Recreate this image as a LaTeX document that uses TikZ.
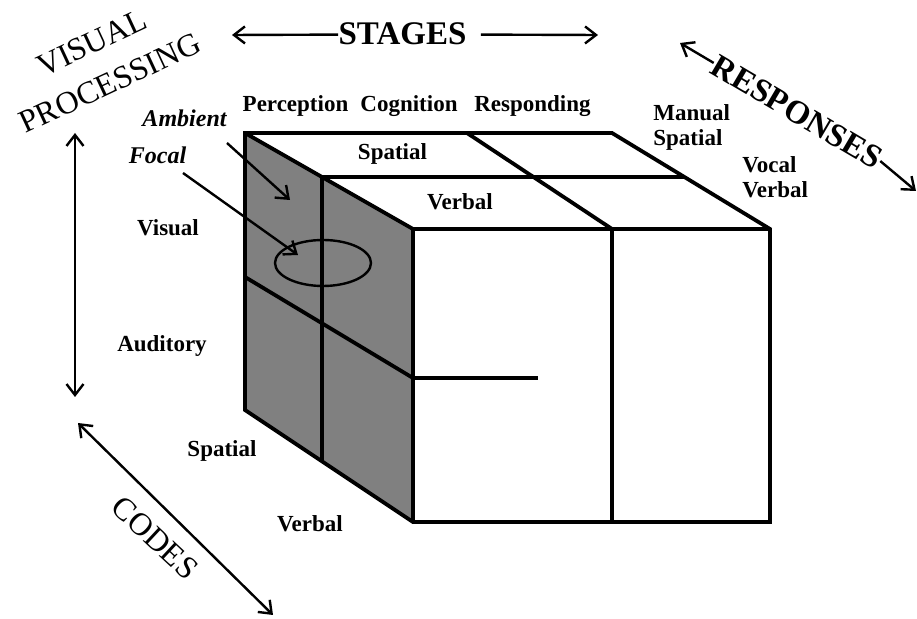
\documentclass[tikz,border=0pt]{standalone}
\usepackage{fontspec}
\setmainfont{Liberation Serif}
\usetikzlibrary{arrows.meta}

\begin{document}
\begin{tikzpicture}[
  x=0.5pt, y=-0.5pt,
  edge/.style={line width=1.9pt, line join=miter},
  thin edge/.style={line width=1.6pt},
  tip/.style={Straight Barb[length=5.5pt,width=8.5pt,line width=1.2pt]},
  arr/.style={line width=1.2pt, -{Straight Barb[length=5.5pt,width=8.5pt,line width=1.2pt]}},
  dblarr/.style={line width=1.2pt, {Straight Barb[length=5.5pt,width=8.5pt,line width=1.2pt]}-{Straight Barb[length=5.5pt,width=8.5pt,line width=1.2pt]}},
  lbl/.style={font=\fontsize{11.5}{14}\selectfont\bfseries, inner sep=0pt, anchor=base},
  lblw/.style={lbl, anchor=base west},
  ital/.style={font=\fontsize{12}{14}\selectfont\bfseries\itshape, inner sep=0pt, anchor=base},
  big/.style={font=\fontsize{16}{20}\selectfont, inner sep=0pt},
  bigb/.style={font=\fontsize{16.5}{20}\selectfont\bfseries, inner sep=0pt},
]
\useasboundingbox (0,0) rectangle (917,619);

% cube corners
\coordinate (A) at (245,133);   % back top left
\coordinate (B) at (612,133);   % back top right
\coordinate (C) at (770,229);   % front top right
\coordinate (D) at (413,229);   % front top left
\coordinate (E) at (245,410);   % back bottom left
\coordinate (F) at (413,522);   % front bottom left
\coordinate (G) at (770,522);   % front bottom right
% inner division points
\coordinate (M1) at (322,177);
\coordinate (M2) at (684,177);
\coordinate (T1) at (467,133);
\coordinate (T2) at (612,229);
\coordinate (T3) at (612,522);
\coordinate (L2) at (322,461);
\coordinate (H1) at (245,277);
\coordinate (H2) at (413,378);
\coordinate (H3) at (538,378);

% faces
\fill[black!50] (A) -- (D) -- (F) -- (E) -- cycle;
\fill[white] (A) -- (B) -- (C) -- (D) -- cycle;

% inner lines
\draw[edge] (M1) -- (M2);
\draw[edge] (T1) -- (T2) -- (T3);
\draw[edge] (M1) -- (L2);
\draw[edge] (H1) -- (H2);
\draw[thin edge] (H2) -- (H3);

% outer edges
\draw[edge] (A) -- (B) -- (C) -- (G) -- (F) -- (E) -- cycle;
\draw[edge] (A) -- (D) -- (C);
\draw[edge] (D) -- (F);

% focal region
\draw[line width=1.2pt] (323,263) ellipse [x radius=48, y radius=23];

% stage labels
\node[lbl] (perc) at (295.5,112) {Perception};
\node[lbl] (cogn) at (409,112) {Cognition};
\node[lbl] (resp) at (532.5,112) {Responding};

% code labels on top
\node[lbl] (tspat) at (392.5,160) {Spatial};
\node[lbl] (tverb) at (460,210) {Verbal};

% response labels
\node[lblw] (manual) at (653,121) {Manual};
\node[lblw] (mspat) at (653,146) {Spatial};
\node[lblw] (vocal) at (742,173) {Vocal};
\node[lblw] (vverb) at (742,198) {Verbal};

% modality labels
\node[lbl] (visual) at (168,236) {Visual};
\node[lbl] (audit) at (162,352) {Auditory};

% code labels at the bottom
\node[lbl] (bspat) at (222,457) {Spatial};
\node[lbl] (bverb) at (310,532) {Verbal};

% visual processing labels and arrows
\node[ital] (amb) at (184.5,127) {Ambient};
\node[ital] (foc) at (157.5,164) {Focal};
\coordinate (ambS) at (227,143);
\coordinate (ambE) at (290,200);
\coordinate (focS) at (183,173);
\coordinate (focE) at (298,255);
\draw[arr] (ambS) -- (ambE);
\draw[arr] (focS) -- (focE);

% axis titles
\node[bigb, anchor=base] (stages) at (402.5,45) {STAGES};
\coordinate (sgL) at (232,35);
\coordinate (sgR) at (598,35);
\draw[arr] ([yshift=5.2pt]stages.base west) -- (sgL);
\draw[arr] ([xshift=7pt,yshift=5.2pt]stages.base east) -- (sgR);

\node[big, rotate=25] (vis) at (92,43) {VISUAL};
\node[big, rotate=25] (proc) at (110,83) {PROCESSING};
\coordinate (vpT) at (75,133);
\coordinate (vpB) at (75,397);
\draw[dblarr] (vpT) -- (vpB);

\node[bigb, rotate=-30.5] (responses) at (797,112) {RESPONSES};
\coordinate (rsA) at (680,43);
\coordinate (rsB) at (916,191);
\draw[arr] (responses.west) -- (rsA);
\draw[arr] (responses.east) -- (rsB);

\node[big, rotate=-43] (codes) at (155,538) {CODES};
\coordinate (cdA) at (78,423);
\coordinate (cdB) at (273,615);
\draw[dblarr] (cdA) -- (cdB);

\end{tikzpicture}
\end{document}
